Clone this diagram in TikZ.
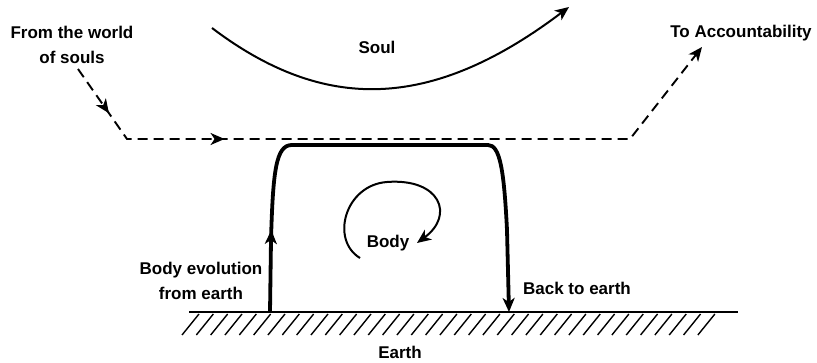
\documentclass[tikz,border=0pt]{standalone}
\usepackage{fontspec}
\setmainfont{Liberation Sans}
\usepackage{tikz}
\usetikzlibrary{arrows.meta,decorations.markings}

\begin{document}
\begin{tikzpicture}[x=1pt,y=-1pt,>={Stealth[length=14pt,width=12pt,inset=4pt]},
  every node/.style={font=\fontsize{17}{25}\selectfont\bfseries,align=center,inner sep=0pt},
  soulline/.style={line width=2pt},
  bodyline/.style={line width=3.8pt},
  dashline/.style={line width=1.9pt,dash pattern=on 10pt off 6pt},
  groundline/.style={line width=1.9pt},
  hatchline/.style={line width=1.4pt},
  midarrow/.style={postaction={decorate},
    decoration={markings,mark=at position #1 with {\arrow{>}}}}]
  \useasboundingbox (0,0) rectangle (817,363);

  % Seele: Bogen oben
  \coordinate (soulStart) at (212,28);
  \coordinate (soulEnd) at (569,7);
  \draw[soulline,->] (soulStart) .. controls (323,112) and (430,112) .. (soulEnd);
  \node (soul) at (377,47) {Soul};

  % Weg der Seele (gestrichelt)
  \node (fromsouls) at (72,45) {From the world\\of souls};
  \node (account) at (741,33) {To Accountability};
  \coordinate (descent) at (78,69);
  \coordinate (leftbend) at (127,139);
  \coordinate (rightbend) at (630,139);
  \coordinate (ascent) at (702,47);
  \draw[dashline,->,postaction={decorate},
    decoration={markings,
      mark=at position 54pt with {\arrow{>}},
      mark=at position 183pt with {\arrow{>}}}]
    (descent) -- (leftbend) -- (rightbend) -- (ascent);

  % Koerper
  \coordinate (riseFoot) at (270,312);
  \coordinate (sinkFoot) at (509,312);
  \draw[bodyline,->,midarrow=82pt] (riseFoot) -- (271,240)
    .. controls (273,170) and (276,145) .. (292,145) -- (488,145)
    .. controls (500,145) and (504,170) .. (507,230) -- (sinkFoot);
  \coordinate (spiralStart) at (360,258);
  \coordinate (spiralEnd) at (417,243);
  \draw[soulline,->] (spiralStart) .. controls (330,240) and (345,185) .. (387,182)
    .. controls (440,178) and (455,215) .. (spiralEnd);
  \node (body) at (388,243) {Body};
  \node (evolution) at (201,281) {Body evolution\\from earth};
  \node (back) at (577,288) {Back to earth};

  % Boden mit Schraffur
  \coordinate (groundL) at (189,312);
  \coordinate (groundR) at (738,312);
  \draw[groundline] (groundL) -- (groundR);
  \foreach \i in {0,...,36}
    \draw[hatchline] ({182+14.33*\i},335) -- ++(17,-21);
  \node (earth) at (400,352) {Earth};
\end{tikzpicture}
\end{document}
